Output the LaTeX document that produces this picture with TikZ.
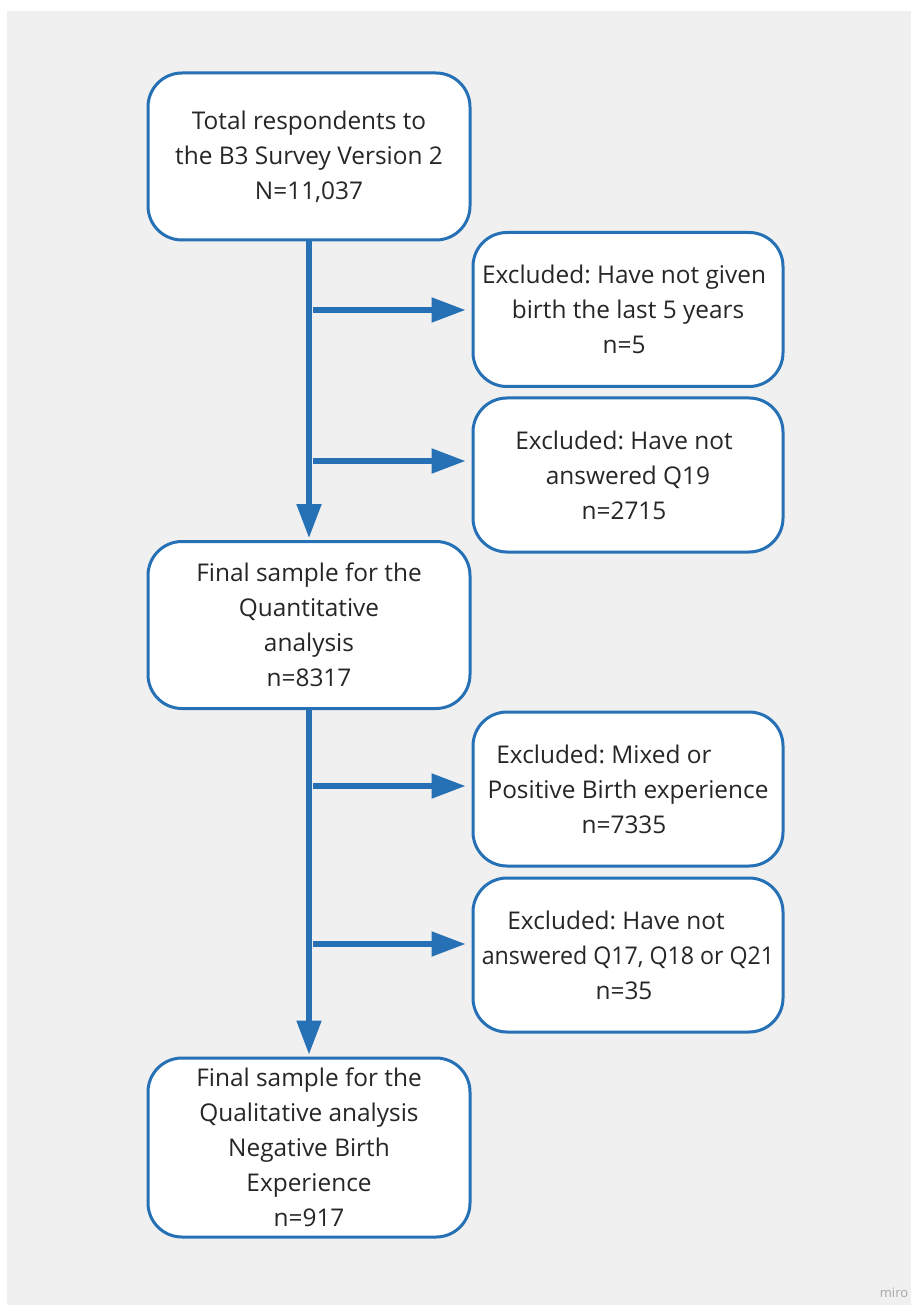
\documentclass[tikz,border=0pt]{standalone}
\usepackage{graphicx}
\usepackage{fontspec}
\setmainfont{Open Sans}
\usetikzlibrary{arrows.meta}
\definecolor{flowblue}{RGB}{38,112,181}
\definecolor{panelgray}{RGB}{240,240,240}
\definecolor{inkgray}{RGB}{38,38,38}
\frenchspacing

\begin{document}
\begin{tikzpicture}[x=0.5pt,y=-0.5pt]
		\useasboundingbox (0,0) rectangle (917,1309);
		\fill[panelgray] (7,11) rectangle (911,1305);
		\begin{scope}
            [
                every node/.style={draw=flowblue, line width=1.5pt, fill=white, rounded corners=17pt, align=center, text=inkgray, font=\fontsize{12.2}{17.5}\selectfont},
				mainbox/.style = {minimum width=161pt, minimum height=83.5pt},
				exbox/.style = {minimum width=155pt, minimum height=77pt, inner xsep=1pt}
            ]
            
			\node(total)[mainbox] at (309,156.5) {Total respondents to\\the B3 Survey Version 2\\N=11,037};
			
			\node(exbirth)[exbox] at (628,309.5) {Excluded: Have not given\hspace*{4pt}\\birth the last 5 years\hspace*{4pt}\\n=5\hspace*{4pt}};
			\node(exqnine)[exbox] at (628,475) {Excluded: Have not\hspace*{4pt}\\answered Q19\hspace*{4pt}\\n=2715\hspace*{4pt}};
			\node(quant)[mainbox] at (309,625) {Final sample for the\\Quantitative\\analysis\\n=8317};
			\node(exmixed)[exbox] at (628,789) {Excluded: Mixed or\hspace*{24pt}\\Positive Birth experience\hspace*{4pt}\\n=7335\hspace*{4pt}};
			\node(exqrest)[exbox] at (628,955) {Excluded: Have not\hspace*{12pt}\\\scalebox{0.95}[1]{answered Q17, Q18 or Q21}\hspace*{4pt}\\n=35\hspace*{4pt}};
			\node(qual)[mainbox, minimum height=89.5pt] at (309,1147.5) {Final sample for the\\Qualitative analysis\\Negative Birth\\Experience\\n=917};

		\end{scope}
		\begin{scope}
            [>={Triangle[length=17pt,width=12pt]},
                every edge/.style={draw=flowblue, line width=2.6pt},
            ]
            \coordinate (t1) at (313,310);
            \coordinate (t2) at (313,461);
            \coordinate (t3) at (313,786);
            \coordinate (t4) at (313,944);
            \path[->, shorten >=1pt]
            (total) edge (quant)
			(quant) edge (qual);
            \path[->, shorten >=3pt]
            (t1) edge (exbirth.west |- t1)
			(t2) edge (exqnine.west |- t2)
			(t3) edge (exmixed.west |- t3)
			(t4) edge (exqrest.west |- t4);
		\end{scope}
		\node(miro)[text=black!35, font=\fontsize{6.5}{8}\selectfont] at (894,1293) {miro};
    \end{tikzpicture}
\end{document}
